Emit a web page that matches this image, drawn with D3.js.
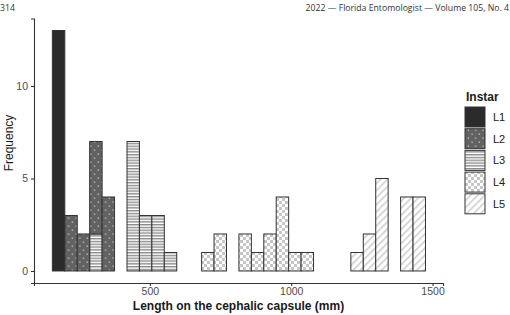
<!DOCTYPE html>
<html><head><meta charset="utf-8">
<script src="https://cdn.jsdelivr.net/npm/d3@7"></script>
<style>body{margin:0;background:#fff}svg{display:block}</style>
</head><body>
<svg id="c" width="510" height="315"></svg>
<script>
// ---- data ----
const bins = [155,199,243,287,331,375,419,463,507,551,595,639,683,727,771,815,859,903,947,991,1035,1079,1123,1167,1211,1255,1299,1343,1387,1431];
const binWidth = 44;
const instars = ["L1","L2","L3","L4","L5"];
const L1 = [13,0,0,0,0,0,0,0,0,0,0,0,0,0,0,0,0,0,0,0,0,0,0,0,0,0,0,0,0,0];
const L2 = [0,3,2,5,4,0,0,0,0,0,0,0,0,0,0,0,0,0,0,0,0,0,0,0,0,0,0,0,0,0];
const L3 = [0,0,0,2,0,0,7,3,3,1,0,0,0,0,0,0,0,0,0,0,0,0,0,0,0,0,0,0,0,0];
const L4 = [0,0,0,0,0,0,0,0,0,0,0,0,1,2,0,2,1,2,4,1,1,0,0,0,0,0,0,0,0,0];
const L5 = [0,0,0,0,0,0,0,0,0,0,0,0,0,0,0,0,0,0,0,0,0,0,0,0,1,2,5,0,4,4];
const xTicks = [500,1000,1500];
const yTicks = [0,5,10];
const headerLeft = "314";
const headerRight = "2022 — Florida Entomologist — Volume 105, No. 4";
const xTitle = "Length on the cephalic capsule (mm)";
const yTitle = "Frequency";
const legendTitle = "Instar";

const series = {L1,L2,L3,L4,L5};
const table = bins.map((b,i)=>{const r={bin:b}; instars.forEach(k=>r[k]=series[k][i]); return r;});

const svg = d3.select("#c");
const x = d3.scaleLinear().domain([90,1537]).range([34,443]);
const y = d3.scaleLinear().domain([-0.65,13.65]).range([283,18.5]);

// patterns
const defs = svg.append("defs");
let p = defs.append("pattern").attr("id","pL2").attr("patternUnits","userSpaceOnUse").attr("width",7.4).attr("height",8);
p.append("rect").attr("width",7.4).attr("height",8).attr("fill","#626262");
p.append("rect").attr("x",1.5).attr("y",1.5).attr("width",1.3).attr("height",1.3).attr("fill","#c4c4c4");
p.append("rect").attr("x",5.2).attr("y",5.5).attr("width",1.3).attr("height",1.3).attr("fill","#c4c4c4");
p = defs.append("pattern").attr("id","pL3").attr("patternUnits","userSpaceOnUse").attr("width",6).attr("height",2.8);
p.append("rect").attr("width",6).attr("height",2.8).attr("fill","#ffffff");
p.append("rect").attr("y",0).attr("width",6).attr("height",1.4).attr("fill","#8c8c8c");
p = defs.append("pattern").attr("id","pL4").attr("patternUnits","userSpaceOnUse").attr("width",6).attr("height",6);
p.append("rect").attr("width",6).attr("height",6).attr("fill","#ffffff");
p.append("rect").attr("width",3).attr("height",3).attr("fill","#c6c6c6");
p.append("rect").attr("x",3).attr("y",3).attr("width",3).attr("height",3).attr("fill","#c6c6c6");
p = defs.append("pattern").attr("id","pL5").attr("patternUnits","userSpaceOnUse").attr("width",5).attr("height",5).attr("patternTransform","rotate(45)");
p.append("rect").attr("width",5).attr("height",5).attr("fill","#ffffff");
p.append("rect").attr("width",1.6).attr("height",5).attr("fill","#cfcfcf");

const fills = {L1:"#2b2b2b", L2:"url(#pL2)", L3:"url(#pL3)", L4:"url(#pL4)", L5:"url(#pL5)"};

// stacked bars (first instar on top, as in ggplot)
const stack = d3.stack().keys(instars.slice().reverse())(table);
const g = svg.append("g");
stack.forEach(layer=>{
  g.selectAll(null).data(layer.filter(d=>d[1]-d[0]>0)).join("rect")
    .attr("x",d=>x(d.data.bin))
    .attr("width",d=>x(d.data.bin+binWidth)-x(d.data.bin))
    .attr("y",d=>y(d[1]))
    .attr("height",d=>y(d[0])-y(d[1]))
    .attr("fill",fills[layer.key])
    .attr("stroke","#333333").attr("stroke-width",1);
});

// axes
const xa = svg.append("g").attr("transform","translate(0,283)")
  .call(d3.axisBottom(x).tickValues(xTicks).tickSize(3).tickPadding(2).tickFormat(d3.format("d")));
const ya = svg.append("g").attr("transform","translate(34,0)")
  .call(d3.axisLeft(y).tickValues(yTicks).tickSize(3).tickPadding(3));
[xa,ya].forEach(a=>{
  a.select(".domain").attr("stroke","#333").attr("stroke-width",1.1);
  a.selectAll(".tick line").attr("stroke","#333").attr("stroke-width",1.1);
  a.selectAll("text").attr("fill","#4d4d4d").style("font-family","Liberation Sans, Arial, sans-serif").style("font-size","10.5px");
});

// titles
svg.append("text").attr("x",238.5).attr("y",310).attr("text-anchor","middle")
  .style("font-family","Liberation Sans, Arial, sans-serif").style("font-size","12px").style("font-weight","bold")
  .attr("fill","#1a1a1a").text(xTitle);
svg.append("text").attr("transform","translate(12.5,143) rotate(-90)").attr("text-anchor","middle")
  .style("font-family","Liberation Sans, Arial, sans-serif").style("font-size","12px")
  .attr("fill","#1a1a1a").text(yTitle);

// header
svg.append("text").attr("x",0).attr("y",11).style("font-family","Open Sans, sans-serif").style("font-size","8.7px").attr("fill","#333").text(headerLeft);
svg.append("text").attr("x",509).attr("y",11).attr("text-anchor","end").style("font-family","Open Sans, sans-serif").style("font-size","8.7px").attr("fill","#333").text(headerRight);

// legend
const lg = svg.append("g");
lg.append("text").attr("x",466).attr("y",101).style("font-family","Liberation Sans, Arial, sans-serif").style("font-size","12px").style("font-weight","bold").attr("fill","#1a1a1a").text(legendTitle);
instars.forEach((k,i)=>{
  const yy = 107 + i*21.7;
  lg.append("rect").attr("x",465).attr("y",yy).attr("width",20).attr("height",20).attr("fill",fills[k]).attr("stroke","#333").attr("stroke-width",1);
  lg.append("text").attr("x",493).attr("y",yy+14).style("font-family","Liberation Sans, Arial, sans-serif").style("font-size","11px").attr("fill","#1a1a1a").text(k);
});
</script>
</body></html>
